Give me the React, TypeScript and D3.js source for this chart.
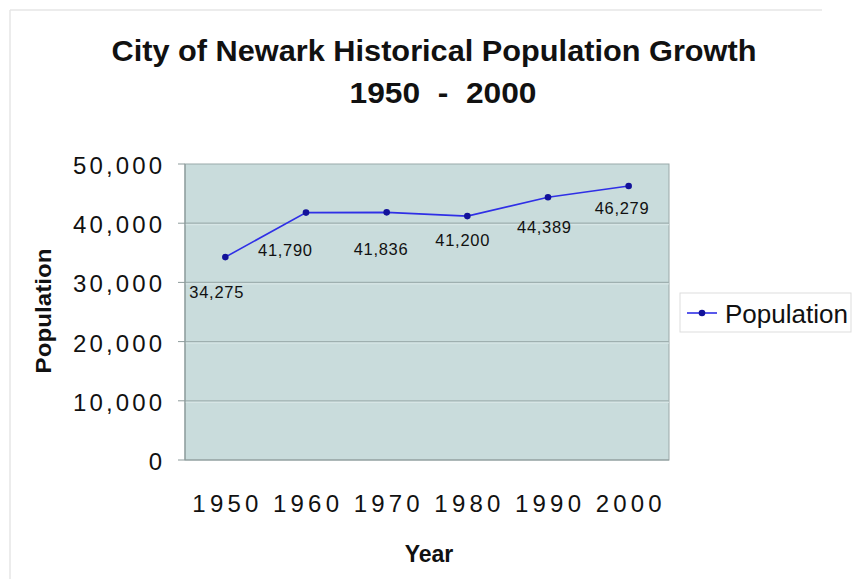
import React from "react";
import * as d3 from "d3";

// Census years and population counts
const years = ["1950", "1960", "1970", "1980", "1990", "2000"];
const population = [34275, 41790, 41836, 41200, 44389, 46279];
const yTicks = [0, 10000, 20000, 30000, 40000, 50000];

// Hand-placed value label nudges (dx, dy from each point)
const labelDx = [-9, -21, -6, -5, -4, -7];
const labelDy = [41, 43, 43, 30, 36, 28];

const W = 856;
const H = 579;
const plot = { left: 185, right: 669, top: 164, bottom: 460 };

const FONT = "'Liberation Sans', Arial, Helvetica, sans-serif";

export default function App() {
  const x = d3
    .scaleBand<string>()
    .domain(years)
    .range([plot.left, plot.right]);
  const y = d3.scaleLinear().domain([0, 50000]).range([plot.bottom, plot.top]);

  const cx = (yr: string) => (x(yr) ?? 0) + x.bandwidth() / 2;
  const fmt = d3.format(",");

  const line = d3
    .line<number>()
    .x((_, i) => cx(years[i]))
    .y((d) => y(d));

  return (
    <svg
      width={W}
      height={H}
      viewBox={`0 0 ${W} ${H}`}
      style={{ position: "absolute", left: 0, top: 0, background: "#ffffff" }}
      fontFamily={FONT}
    >
      {/* faint chart frame */}
      <line x1={10} y1={10} x2={822} y2={10} stroke="#e6e6e6" strokeWidth={1.5} />
      <line x1={10} y1={10} x2={10} y2={H} stroke="#e6e6e6" strokeWidth={1.5} />

      {/* title */}
      <text
        x={434}
        y={61}
        textAnchor="middle"
        fontSize={30}
        fontWeight="bold"
        textLength={645}
        lengthAdjust="spacingAndGlyphs"
        fill="#111"
      >
        City of Newark Historical Population Growth
      </text>
      <text
        x={443}
        y={103}
        textAnchor="middle"
        fontSize={30}
        fontWeight="bold"
        textLength={187}
        lengthAdjust="spacingAndGlyphs"
        fill="#111"
        style={{ whiteSpace: "pre" }}
      >
        {"1950  -  2000"}
      </text>

      {/* plot area */}
      <rect
        x={plot.left}
        y={plot.top}
        width={plot.right - plot.left}
        height={plot.bottom - plot.top}
        fill="#c9dcdc"
        stroke="#9aa9a9"
        strokeWidth={1}
      />

      {/* gridlines */}
      {yTicks
        .filter((t) => t > 0 && t < 50000)
        .map((t) => (
          <g key={`g${t}`}>
            <line x1={plot.left} x2={plot.right} y1={y(t)} y2={y(t)} stroke="#9fb0b0" strokeWidth={1.2} />
            <line x1={plot.left} x2={plot.right} y1={y(t) + 1.5} y2={y(t) + 1.5} stroke="#dbe8e8" strokeWidth={1} />
          </g>
        ))}

      {/* axes */}
      <line x1={plot.left} x2={plot.left} y1={plot.top} y2={plot.bottom} stroke="#8d9b9b" strokeWidth={1.2} />
      <line x1={plot.left} x2={plot.right} y1={plot.bottom} y2={plot.bottom} stroke="#8d9b9b" strokeWidth={1.2} />
      {yTicks.map((t) => (
        <g key={`t${t}`}>
          <line x1={plot.left - 7} x2={plot.left} y1={y(t)} y2={y(t)} stroke="#8d9b9b" strokeWidth={1} />
          <text
            x={162}
            y={y(t) + 10}
            textAnchor="end"
            fontSize={24}
            fill="#111"
            {...(t > 0 ? { textLength: 89, lengthAdjust: "spacing" } : {})}
          >
            {fmt(t)}
          </text>
        </g>
      ))}

      {/* x axis labels */}
      {years.map((yr) => (
        <text
          key={yr}
          x={cx(yr)}
          y={512}
          textAnchor="middle"
          fontSize={24}
          textLength={66}
          lengthAdjust="spacing"
          fill="#111"
        >
          {yr}
        </text>
      ))}

      {/* axis titles */}
      <text
        transform="translate(51,311) rotate(-90)"
        textAnchor="middle"
        fontSize={22}
        fontWeight="bold"
        textLength={125}
        lengthAdjust="spacingAndGlyphs"
        fill="#111"
      >
        Population
      </text>
      <text x={429} y={562} textAnchor="middle" fontSize={23} fontWeight="bold" fill="#111">
        Year
      </text>

      {/* series */}
      <path d={line(population) ?? ""} fill="none" stroke="#2f2fe6" strokeWidth={1.6} />
      {population.map((v, i) => (
        <circle key={`p${i}`} cx={cx(years[i])} cy={y(v)} r={3.3} fill="#12129a" />
      ))}
      {population.map((v, i) => (
        <text
          key={`l${i}`}
          x={cx(years[i]) + labelDx[i]}
          y={y(v) + labelDy[i]}
          textAnchor="middle"
          fontSize={16.5}
          textLength={54}
          lengthAdjust="spacing"
          fill="#111"
        >
          {fmt(v)}
        </text>
      ))}

      {/* legend */}
      <rect x={680} y={293} width={171} height={39} fill="#ffffff" stroke="#dddddd" strokeWidth={1} />
      <line x1={687} x2={717} y1={313} y2={313} stroke="#2f2fe6" strokeWidth={1.6} />
      <circle cx={702} cy={313} r={3.3} fill="#12129a" />
      <text x={725} y={323} fontSize={25} textLength={123} lengthAdjust="spacingAndGlyphs" fill="#111">
        Population
      </text>
    </svg>
  );
}
